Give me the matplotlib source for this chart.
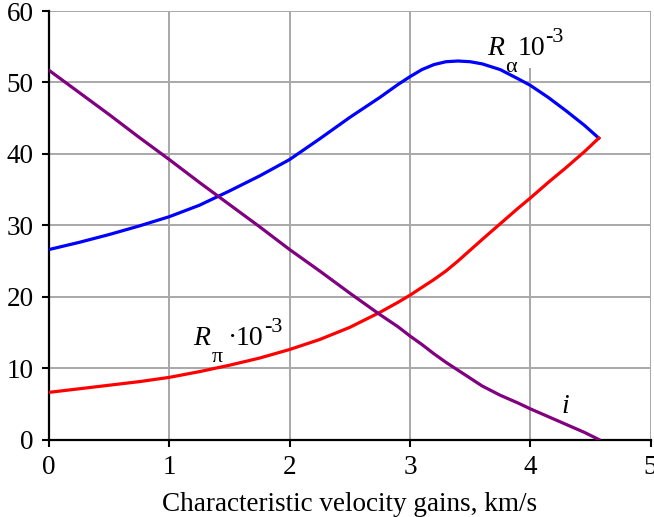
import matplotlib
matplotlib.use('Agg')
import matplotlib.pyplot as plt
from matplotlib.patches import Rectangle

plt.rcParams['font.family'] = 'Liberation Serif'

# values
x = [0, 0.25, 0.5, 0.75, 1, 1.25, 1.5, 1.75, 2, 2.25, 2.5, 2.75, 2.9, 3, 3.1, 3.2, 3.3, 3.4,
     3.5, 3.6, 3.75, 3.9, 4, 4.15, 4.3, 4.45, 4.57]
r_alpha = [26.6, 27.6, 28.7, 29.9, 31.2, 32.8, 34.8, 36.9, 39.2, 42.1, 45.1, 47.9, 49.7, 50.8, 51.8, 52.5, 52.9, 53.0,
           52.9, 52.6, 51.8, 50.5, 49.6, 47.9, 46.0, 44.0, 42.2]
r_pi = [6.6, 7.1, 7.6, 8.1, 8.7, 9.5, 10.4, 11.4, 12.6, 14.0, 15.7, 17.8, 19.2, 20.2, 21.3, 22.4, 23.6, 25.0,
        26.5, 28.0, 30.2, 32.4, 33.8, 36.0, 38.1, 40.3, 42.2]
i_vals = [51.7, 48.6, 45.5, 42.3, 39.2, 36.0, 32.9, 29.8, 26.6, 23.6, 20.5, 17.5, 15.8, 14.5, 13.3, 12.0, 10.8, 9.7,
          8.6, 7.5, 6.2, 5.1, 4.3, 3.2, 2.1, 1.0, 0.0]
xticks = [0, 1, 2, 3, 4, 5]
yticks = [0, 10, 20, 30, 40, 50, 60]

fig = plt.figure(figsize=(6.54, 5.17), dpi=100)
ax = fig.add_axes([0.0749, 0.1499, 0.9198, 0.8288])

ax.plot(x, r_alpha, color='#0000ff', lw=2.3, zorder=3)
ax.plot(x, r_pi, color='#ff0000', lw=2.3, zorder=3)
ax.plot(x, i_vals, color='#800080', lw=2.3, zorder=3)

ax.set_xlim(0, 5)
ax.set_ylim(0, 60)
ax.set_xticks(xticks)
ax.set_yticks(yticks)
ax.grid(True, color='#a8a8a8', lw=1.4)
ax.set_axisbelow(True)
ax.spines['top'].set_visible(False)
ax.spines['right'].set_visible(False)
ax.spines['left'].set_linewidth(1.6)
ax.spines['bottom'].set_linewidth(1.6)
ax.tick_params(direction='out', length=5, width=1.5, labelsize=19.5, pad=6)
ax.set_xlabel('Characteristic velocity gains, km/s', fontsize=19.5, labelpad=9)

# white patch behind the R_alpha label hides the grid line there
ax.add_patch(Rectangle((3.96, 52.0), 0.08, 7.8, facecolor='white', edgecolor='none', zorder=1))


def put(xd, yd, parts):
    # parts: text, dx, dy (pixels, dy down), size, style
    for s, dx, dy, size, style in parts:
        ax.annotate(s, (xd, yd), xytext=(dx * 0.72, -dy * 0.72), textcoords='offset points',
                    ha='left', va='baseline', fontsize=size, fontstyle=style, zorder=2)


put(3.64, 53.8, [('R', 0, 0, 20, 'italic'),
                 ('α', 18, 17, 16, 'normal'),
                 ('10', 31, 0, 20, 'normal'),
                 ('-3', 58, -13, 16, 'normal')])

put(1.197, 13.3, [('R', 0, 0, 20, 'italic'),
                  ('π', 19, 17, 16, 'normal'),
                  ('·', 35, 0, 20, 'normal'),
                  ('10', 43, 0, 20, 'normal'),
                  ('-3', 71, -13, 16, 'normal')])

put(4.26, 3.7, [('i', 0, 0, 20, 'italic')])

fig.savefig('out.png', dpi=100)
